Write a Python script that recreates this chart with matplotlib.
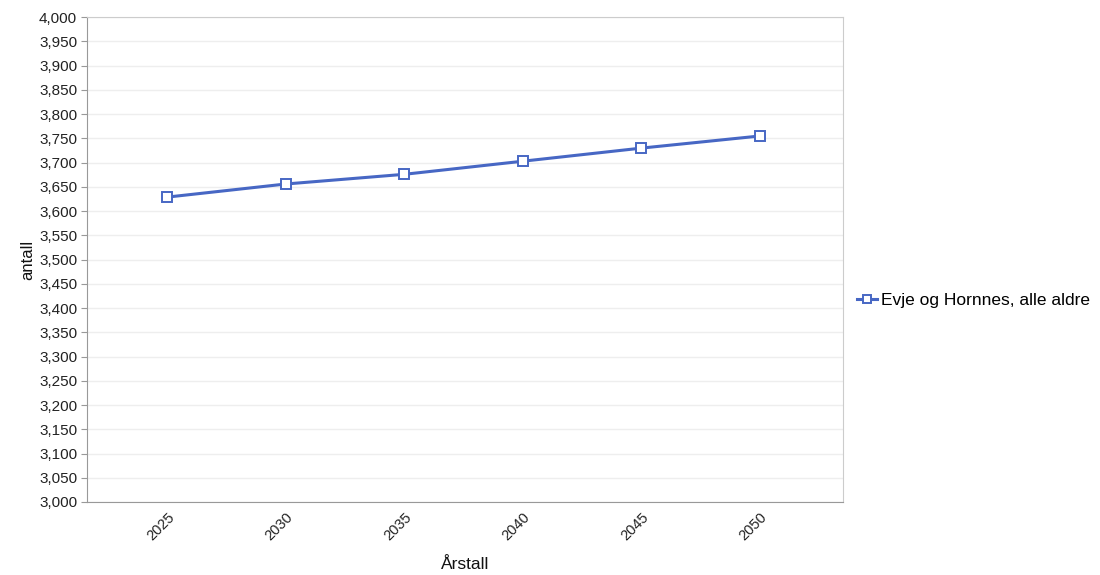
import matplotlib
matplotlib.use('Agg')
import matplotlib.pyplot as plt
import numpy as np

matplotlib.rcParams['font.family'] = ['Liberation Sans', 'DejaVu Sans']
matplotlib.rcParams['font.size'] = 9

years = ['2025', '2030', '2035', '2040', '2045', '2050']
values = [3629, 3656, 3676, 3703, 3730, 3755]
series_name = 'Evje og Hornnes, alle aldre'

fig = plt.figure(figsize=(11, 5.75), dpi=100)
ax = fig.add_axes([0.079, 0.127, 0.687, 0.843])

x = np.arange(len(years))
ax.plot(x, values, color='#4767c4', linewidth=2.2, marker='s', markersize=7,
        markerfacecolor='white', markeredgecolor='#4767c4', markeredgewidth=1.4,
        label=series_name, zorder=3)

ax.set_ylim(3000, 4000)
ax.set_yticks(np.arange(3000, 4001, 50))
ax.yaxis.set_major_formatter(matplotlib.ticker.FuncFormatter(lambda v, p: '{:,.0f}'.format(v)))
ax.set_xlim(-0.68, 5.7)
ax.set_xticks(x)
ax.set_xticklabels(years, rotation=45, ha='right', rotation_mode='anchor')
ax.tick_params(axis='x', length=0, pad=6, labelsize=10.5, labelcolor='#222222')
ax.tick_params(axis='y', length=4, color='#999999', labelsize=11, labelcolor='#222222', pad=3)

ax.grid(axis='y', color='#eeeeee', linewidth=1)
ax.set_axisbelow(True)
ax.spines['left'].set_color('#999999')
ax.spines['bottom'].set_color('#999999')
ax.spines['right'].set_color('#cccccc')
ax.spines['top'].set_color('#cccccc')

ax.set_ylabel('antall', fontsize=12, labelpad=3, color='#111111')
ax.set_xlabel('Årstall', fontsize=12.5, labelpad=10, color='#111111')

fig.legend(loc='center left', bbox_to_anchor=(0.779, 0.478), frameon=False,
           borderpad=0, borderaxespad=0, fontsize=12.5, handlelength=1.15,
           handletextpad=0.25, markerscale=0.85)

fig.savefig('out.png', dpi=100)
